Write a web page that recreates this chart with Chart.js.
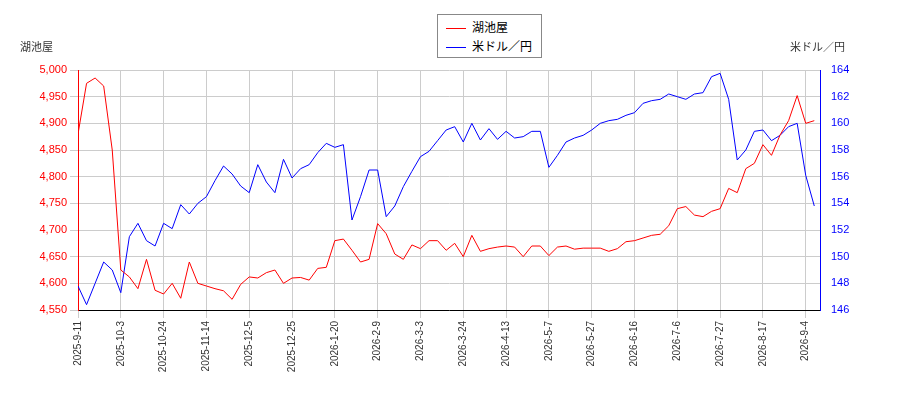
<!DOCTYPE html>
<html>
<head>
<meta charset="utf-8">
<script src="https://cdn.jsdelivr.net/npm/chart.js@4"></script>
<style>
body { margin: 0; background: #fff; font-family: "Noto Sans CJK JP", sans-serif; }
#wrap { position: relative; width: 900px; height: 400px; }
.lbl { position: absolute; font-size: 11px; color: #333; }
#legend { position: absolute; left: 437px; top: 14px; width: 103px; height: 42px; border: 1px solid #888; background: #fff; font-size: 12px; }
#legend div { position: absolute; left: 8px; }
#legend span { display: inline-block; width: 20px; height: 0; border-top: 1.5px solid; vertical-align: middle; margin-right: 6px; }
</style>
</head>
<body>
<div id="wrap">
  <canvas id="c" width="900" height="400"></canvas>
  <div class="lbl" style="left:20px;top:38px;">湖池屋</div>
  <div class="lbl" style="left:790px;top:38px;">米ドル／円</div>
  <div id="legend">
    <div style="top:3px;"><span style="border-color:red"></span>湖池屋</div>
    <div style="top:22px;"><span style="border-color:blue"></span>米ドル／円</div>
  </div>
</div>
<script>
"use strict";

// one label every 15 business days
const tickLabels = ["2025-9-11", "2025-10-3", "2025-10-24", "2025-11-14", "2025-12-5", "2025-12-25",
    "2026-1-20", "2026-2-9", "2026-3-3", "2026-3-24", "2026-4-13", "2026-5-7", "2026-5-27",
    "2026-6-16", "2026-7-6", "2026-7-27", "2026-8-17", "2026-9-4"];

// sampled every 3 business days
const stockPrices = [4880, 4975, 4985, 4970, 4850, 4625, 4612, 4590, 4645, 4587,
    4580, 4600, 4572, 4640, 4600, 4595, 4590, 4586, 4570, 4598,
    4612, 4610, 4620, 4625, 4600, 4610, 4611, 4606, 4628, 4630,
    4680, 4683, 4662, 4640, 4645, 4712, 4693, 4655, 4645, 4672,
    4665, 4680, 4680, 4662, 4675, 4650, 4690, 4660, 4665, 4668,
    4670, 4668, 4650, 4670, 4670, 4652, 4668, 4670, 4664, 4666,
    4666, 4666, 4660, 4665, 4678, 4680, 4685, 4690, 4692, 4708,
    4740, 4744, 4728, 4725, 4735, 4740, 4778, 4770, 4815, 4825,
    4860, 4840, 4878, 4905, 4952, 4900, 4905];

const usdJpy = [147.8, 146.4, 148.0, 149.6, 149.0, 147.3, 151.5, 152.5, 151.2, 150.8,
    152.5, 152.1, 153.9, 153.2, 154.0, 154.5, 155.7, 156.8, 156.2, 155.3,
    154.8, 156.9, 155.6, 154.8, 157.3, 155.9, 156.6, 156.9, 157.8, 158.5,
    158.2, 158.4, 152.75, 154.5, 156.5, 156.5, 153.0, 153.8, 155.25, 156.4,
    157.5, 157.9, 158.7, 159.5, 159.75, 158.6, 160.0, 158.75, 159.6, 158.8,
    159.4, 158.9, 159.0, 159.4, 159.4, 156.7, 157.6, 158.6, 158.9, 159.1,
    159.5, 160.0, 160.2, 160.3, 160.6, 160.8, 161.5, 161.7, 161.8, 162.2,
    162.0, 161.8, 162.2, 162.3, 163.5, 163.75, 161.8, 157.25, 158.0, 159.4,
    159.5, 158.7, 159.1, 159.75, 160.0, 156.1, 153.8];

const step = 3;
const toPoints = arr => arr.map((v, i) => ({ x: i * step, y: v }));

const ctx = document.querySelector('#c').getContext('2d');
new Chart(ctx, {
    type: 'line',
    data: {
        datasets: [
            { data: toPoints(stockPrices), borderColor: 'red', yAxisID: 'y' },
            { data: toPoints(usdJpy), borderColor: 'blue', yAxisID: 'y2' }
        ]
    },
    options: {
        responsive: false,
        animation: false,
        layout: { padding: { top: 70, left: 0, right: 0, bottom: 0 } },
        elements: { line: { borderWidth: 1, tension: 0 }, point: { radius: 0 } },
        plugins: { legend: { display: false }, tooltip: { enabled: false } },
        scales: {
            x: {
                type: 'linear', min: 0, max: 260,
                afterFit: s => { s.height = 90; },
                afterBuildTicks: s => { s.ticks = tickLabels.map((_, i) => ({ value: i * 15 })); },
                ticks: {
                    maxRotation: 90, minRotation: 90, autoSkip: false,
                    color: '#333', font: { size: 10 },
                    callback: v => tickLabels[v / 15]
                },
                grid: { color: '#ccc' },
                border: { color: '#000' }
            },
            y: {
                position: 'left', min: 4550, max: 5000,
                afterFit: s => { s.width = 78; },
                ticks: { stepSize: 50, color: 'red', font: { size: 11 } },
                grid: { color: '#ccc' },
                border: { color: 'red' }
            },
            y2: {
                position: 'right', min: 146, max: 164,
                afterFit: s => { s.width = 80; },
                ticks: { stepSize: 2, color: 'blue', font: { size: 11 } },
                grid: { display: false },
                border: { color: 'blue' }
            }
        }
    }
});
</script>
</body>
</html>
